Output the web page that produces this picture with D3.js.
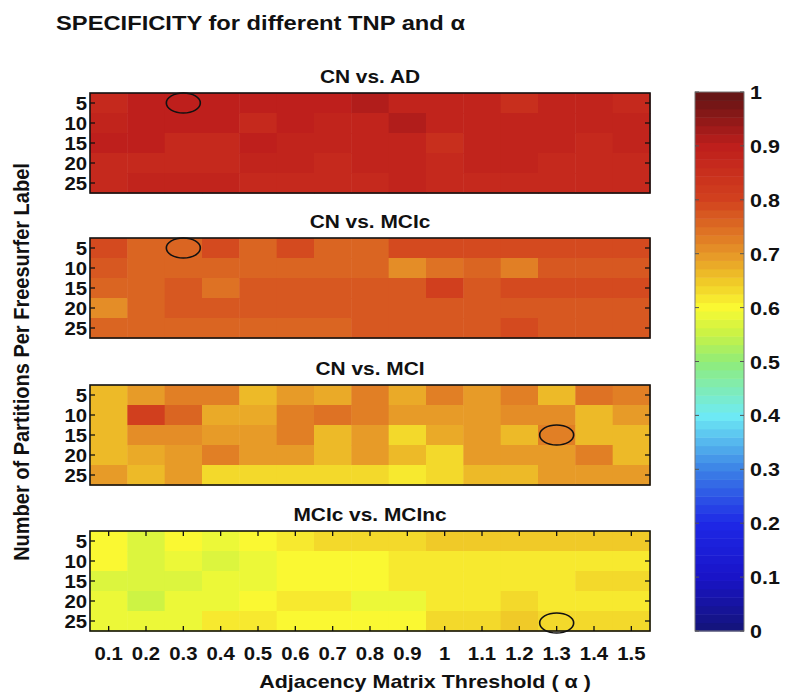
<!DOCTYPE html>
<html><head><meta charset="utf-8">
<script src="https://cdn.jsdelivr.net/npm/d3@7/dist/d3.min.js"></script>
<style>body{margin:0;background:#fff}svg{display:block}text{font-family:"Liberation Sans",Arial,sans-serif;font-weight:bold;fill:#111}</style>
</head><body>
<script>
// ---- data ----
const alphas = ["0.1","0.2","0.3","0.4","0.5","0.6","0.7","0.8","0.9","1","1.1","1.2","1.3","1.4","1.5"];
const tnps = [5,10,15,20,25];
const panelTitles = ["CN vs. AD","CN vs. MCIc","CN vs. MCI","MCIc vs. MCInc"];
const cnAD = [
  [0.87,0.90,0.90,0.90,0.90,0.90,0.90,0.91,0.88,0.88,0.88,0.85,0.88,0.88,0.86],
  [0.88,0.90,0.90,0.90,0.86,0.90,0.88,0.88,0.91,0.88,0.88,0.88,0.88,0.88,0.88],
  [0.90,0.90,0.87,0.87,0.90,0.88,0.88,0.88,0.88,0.85,0.88,0.88,0.88,0.86,0.88],
  [0.86,0.86,0.86,0.86,0.88,0.88,0.86,0.88,0.88,0.86,0.89,0.89,0.86,0.86,0.86],
  [0.86,0.89,0.89,0.89,0.86,0.86,0.86,0.86,0.89,0.86,0.86,0.86,0.86,0.86,0.86]
];
const cnMCIc = [
  [0.79,0.76,0.76,0.79,0.76,0.79,0.76,0.76,0.79,0.79,0.79,0.79,0.79,0.79,0.79],
  [0.78,0.75,0.75,0.75,0.75,0.75,0.75,0.75,0.71,0.74,0.76,0.73,0.77,0.77,0.77],
  [0.76,0.76,0.78,0.74,0.77,0.77,0.77,0.77,0.77,0.80,0.77,0.79,0.79,0.79,0.79],
  [0.71,0.75,0.77,0.77,0.77,0.77,0.77,0.77,0.77,0.77,0.77,0.77,0.77,0.77,0.78],
  [0.75,0.75,0.75,0.75,0.75,0.75,0.75,0.77,0.77,0.77,0.77,0.79,0.77,0.78,0.78]
];
const cnMCI = [
  [0.66,0.70,0.72,0.72,0.67,0.70,0.68,0.72,0.68,0.72,0.69,0.72,0.66,0.74,0.72],
  [0.66,0.80,0.75,0.68,0.68,0.72,0.74,0.72,0.70,0.70,0.69,0.71,0.71,0.66,0.70],
  [0.67,0.71,0.71,0.69,0.69,0.72,0.66,0.69,0.64,0.68,0.69,0.66,0.72,0.66,0.66],
  [0.67,0.68,0.70,0.72,0.70,0.70,0.66,0.70,0.67,0.64,0.69,0.70,0.70,0.73,0.67],
  [0.70,0.67,0.69,0.64,0.64,0.64,0.64,0.64,0.62,0.64,0.66,0.66,0.69,0.69,0.69]
];
const mciCNC = [
  [0.60,0.575,0.60,0.58,0.60,0.61,0.635,0.635,0.635,0.645,0.645,0.645,0.645,0.645,0.645],
  [0.60,0.57,0.58,0.565,0.58,0.60,0.60,0.60,0.62,0.62,0.62,0.62,0.62,0.62,0.62],
  [0.57,0.57,0.575,0.58,0.585,0.60,0.60,0.60,0.62,0.62,0.62,0.62,0.62,0.635,0.635],
  [0.58,0.56,0.58,0.585,0.60,0.61,0.61,0.585,0.585,0.62,0.62,0.64,0.62,0.62,0.62],
  [0.59,0.59,0.59,0.61,0.61,0.60,0.60,0.60,0.60,0.635,0.635,0.645,0.63,0.63,0.63]
];
const panelData = [cnAD, cnMCIc, cnMCI, mciCNC];
// best (circled) cells: [panel, alpha, tnp]
const marked = [[0,"0.3",5],[1,"0.3",5],[2,"1.3",15],[3,"1.3",25]];
const cbTicks = [0,0.1,0.2,0.3,0.4,0.5,0.6,0.7,0.8,0.9,1];
const cbStops = [0,0.1,0.2,0.3,0.4,0.5,0.55,0.6,0.65,0.7,0.8,0.9,1];
const cbColors = ["#141478","#1914c8","#1e28e6","#3c82e6","#6eebf5","#90ec78","#c8f246","#fafa32","#f0c828","#e69628","#d2411e","#be1e1c","#5f1414"];

// ---- layout ----
const W = 785, H = 696;
const x0 = 90, x1 = 650, ph = 100;
const tops = [93, 238, 385, 531];
const SX = 1.13; // horizontal stretch of glyphs in the reference
const svg = d3.select("body").append("svg").attr("width", W).attr("height", H);

function txt(parent, x, y, size, anchor, s) {
  return parent.append("text").attr("transform", `translate(${x},${y}) scale(${SX},1)`)
    .attr("text-anchor", anchor).style("font-size", size + "px").text(s);
}

const jet = d3.scaleLinear().domain(cbStops).range(cbColors).interpolate(d3.interpolateRgb).clamp(true);
const color = v => jet((Math.min(63, Math.floor(v * 64)) + 0.5) / 64);

const x = d3.scaleBand().domain(alphas).range([x0, x1]);

txt(svg, 56, 30, 21, "start", "SPECIFICITY for different TNP and α");

panelData.forEach((data, p) => {
  const top = tops[p];
  const y = d3.scaleBand().domain(tnps).range([top, top + ph]);
  const g = svg.append("g");
  txt(svg, (x0 + x1) / 2, top - 10, 18.5, "middle", panelTitles[p]);
  const cells = [];
  data.forEach((row, r) => row.forEach((v, c) => cells.push({a: alphas[c], t: tnps[r], v})));
  g.selectAll("rect.c").data(cells).join("rect")
    .attr("x", d => x(d.a)).attr("y", d => y(d.t))
    .attr("width", x.bandwidth() + 0.5).attr("height", y.bandwidth() + 0.5)
    .attr("fill", d => color(d.v));
  const ty = tnps.map(t => y(t) + y.bandwidth() / 2);
  g.selectAll("line.yl").data(ty).join("line").attr("x1", x0).attr("x2", x0 + 5)
    .attr("y1", d => d).attr("y2", d => d).attr("stroke", "#111").attr("stroke-width", 1.3);
  g.selectAll("line.yr").data(ty).join("line").attr("x1", x1 - 5).attr("x2", x1)
    .attr("y1", d => d).attr("y2", d => d).attr("stroke", "#111").attr("stroke-width", 1.3);
  tnps.forEach(t => txt(g, x0 - 3, y(t) + y.bandwidth() / 2 + 6.5, 18, "end", t));
  if (p === 3) {
    const tx = alphas.map(a => x(a) + x.bandwidth() / 2);
    g.selectAll("line.xb").data(tx).join("line").attr("x1", d => d).attr("x2", d => d)
      .attr("y1", top + ph).attr("y2", top + ph - 5).attr("stroke", "#111").attr("stroke-width", 1.3);
    g.selectAll("line.xt").data(tx).join("line").attr("x1", d => d).attr("x2", d => d)
      .attr("y1", top).attr("y2", top + 5).attr("stroke", "#111").attr("stroke-width", 1.3);
    alphas.forEach(a => txt(g, x(a) + x.bandwidth() / 2, top + ph + 29, 18, "middle", a));
  }
  g.append("rect").attr("x", x0).attr("y", top).attr("width", x1 - x0).attr("height", ph)
    .attr("fill", "none").attr("stroke", "#111").attr("stroke-width", 1.6);
  marked.filter(m => m[0] === p).forEach(m => {
    g.append("ellipse").attr("cx", x(m[1]) + x.bandwidth() / 2).attr("cy", y(m[2]) + y.bandwidth() / 2 + (p === 3 ? 2 : 0))
      .attr("rx", 17).attr("ry", 10).attr("fill", "none").attr("stroke", "#111").attr("stroke-width", 1.6);
  });
});

svg.append("text").attr("transform", `translate(29,${(tops[0] + tops[3] + ph) / 2}) rotate(-90) scale(1,${SX})`)
  .attr("text-anchor", "middle").style("font-size", "20px").text("Number of Partitions Per Freesurfer Label");
txt(svg, 425, 688, 19, "middle", "Adjacency Matrix Threshold ( α )");

// colorbar
const cbx = 695, cbw = 49, cbTop = 92, cbBot = 631;
const cy = d3.scaleLinear().domain([0, 1]).range([cbBot, cbTop]);
const levels = d3.range(64);
svg.append("g").selectAll("rect").data(levels).join("rect")
  .attr("x", cbx).attr("width", cbw)
  .attr("y", d => cy((d + 1) / 64)).attr("height", (cbBot - cbTop) / 64 + 0.5)
  .attr("fill", d => jet((d + 0.5) / 64));
svg.append("rect").attr("x", cbx).attr("y", cbTop).attr("width", cbw).attr("height", cbBot - cbTop)
  .attr("fill", "none").attr("stroke", "#777").attr("stroke-width", 1);
const cbg = svg.append("g");
cbg.selectAll("line.l").data(cbTicks).join("line").attr("x1", cbx).attr("x2", cbx + 4)
  .attr("y1", d => cy(d)).attr("y2", d => cy(d)).attr("stroke", "#555");
cbg.selectAll("line.r").data(cbTicks).join("line").attr("x1", cbx + cbw - 4).attr("x2", cbx + cbw)
  .attr("y1", d => cy(d)).attr("y2", d => cy(d)).attr("stroke", "#555");
cbTicks.forEach(t => txt(cbg, cbx + cbw + 6, cy(t) + 7, 19, "start", d3.format("~g")(t)));
</script>
</body></html>
